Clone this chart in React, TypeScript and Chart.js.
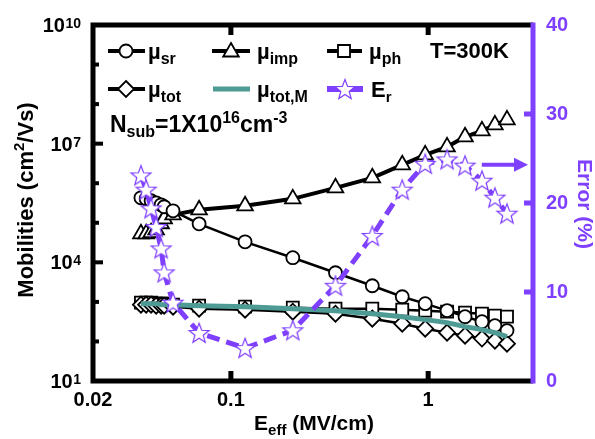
import React, { useEffect, useRef } from "react";
import { Chart, registerables } from "chart.js";

Chart.register(...registerables);

// ---------- data ----------
const E_EFF = [0.035, 0.0372, 0.0394, 0.0418, 0.0443, 0.0459, 0.0509, 0.069, 0.118, 0.206, 0.339, 0.521, 0.739, 0.966, 1.247, 1.538, 1.874, 2.18, 2.51];
const MU_SR = [4.28e5, 4.03e5, 3.6e5, 3.2e5, 2.85e5, 2.54e5, 2.01e5, 9.4e4, 3.3e4, 1.31e4, 5.46e3, 2.56e3, 1.35e3, 902, 600, 423, 316, 251, 188];
const MU_IMP = [5.27e4, 5.27e4, 5.59e4, 6.65e4, 9.44e4, 1.26e5, 1.59e5, 2.13e5, 2.69e5, 4.03e5, 7.65e5, 1.37e6, 2.92e6, 5.21e6, 8.3e6, 1.49e7, 2.1e7, 2.99e7, 3.99e7];
const MU_PH = [955, 955, 955, 902, 902, 902, 849, 802, 757, 714, 673, 673, 635, 600, 566, 534, 504, 449, 423];
const MU_TOT = [849, 849, 849, 802, 802, 802, 757, 673, 635, 566, 504, 377, 281, 210, 167, 140, 118, 105, 88];
const MU_TOT_M = [902, 902, 902, 902, 849, 849, 849, 802, 757, 673, 600, 504, 423, 356, 299, 237, 199, 167, 132];
const ERR = [23.1, 21.5, 19.4, 17.3, 14.9, 12.2, 8.8, 5.4, 3.7, 5.7, 10.7, 16.3, 21.5, 24.4, 24.9, 24.2, 22.5, 20.6, 18.8];

const X_TICKS = [0.02, 0.1, 1];
const X_RANGE = [0.02, 3.4];
const Y_DECADES = [1, 2, 3, 4, 5, 6, 7, 8, 9, 10];
const Y_LABEL_EXP = [1, 4, 7, 10];
const ERR_TICKS = [0, 10, 20, 30, 40];
const ARROW_ERR = 24.3;
const ARROW_X_START = 1.87;

const PURPLE = "#7f3fff";
const TEAL = "#4e9a95";
const FONT = '"Liberation Sans", Arial, Helvetica, sans-serif';

type Part = { t: string; size: number; dy?: number };

function drawRich(ctx: CanvasRenderingContext2D, x: number, y: number, parts: Part[], align: "left" | "center" | "right" = "left") {
  ctx.textAlign = "left";
  ctx.textBaseline = "alphabetic";
  let total = 0;
  const widths = parts.map((p) => {
    ctx.font = `bold ${p.size}px ${FONT}`;
    const w = ctx.measureText(p.t).width;
    total += w;
    return w;
  });
  let cx = align === "left" ? x : align === "center" ? x - total / 2 : x - total;
  parts.forEach((p, i) => {
    ctx.font = `bold ${p.size}px ${FONT}`;
    ctx.fillText(p.t, cx, y + (p.dy || 0));
    cx += widths[i];
  });
}

function starPath(ctx: CanvasRenderingContext2D, cx: number, cy: number, R: number, r: number) {
  ctx.beginPath();
  for (let i = 0; i < 10; i++) {
    const ang = -Math.PI / 2 + (i * Math.PI) / 5;
    const rad = i % 2 === 0 ? R : r;
    const px = cx + Math.cos(ang) * rad;
    const py = cy + Math.sin(ang) * rad;
    if (i === 0) ctx.moveTo(px, py);
    else ctx.lineTo(px, py);
  }
  ctx.closePath();
}

function drawStar(ctx: CanvasRenderingContext2D, cx: number, cy: number) {
  starPath(ctx, cx, cy, 10.5, 4.4);
  ctx.fillStyle = "#fff";
  ctx.fill();
  ctx.lineWidth = 1.2;
  ctx.lineJoin = "miter";
  ctx.strokeStyle = PURPLE;
  ctx.stroke();
}

function makeStarCanvas() {
  const c = document.createElement("canvas");
  c.width = 26;
  c.height = 26;
  const g = c.getContext("2d")!;
  drawStar(g, 13, 13.8);
  return c;
}

function drawMarker(ctx: CanvasRenderingContext2D, kind: string, x: number, y: number, r: number) {
  ctx.beginPath();
  if (kind === "circle") {
    ctx.arc(x, y, r, 0, Math.PI * 2);
  } else if (kind === "triangle") {
    for (let i = 0; i < 3; i++) {
      const ang = (i * 2 * Math.PI) / 3;
      const px = x + Math.sin(ang) * r;
      const py = y - Math.cos(ang) * r;
      if (i === 0) ctx.moveTo(px, py);
      else ctx.lineTo(px, py);
    }
    ctx.closePath();
  } else if (kind === "rect") {
    const s = Math.SQRT1_2 * r;
    ctx.rect(x - s, y - s, 2 * s, 2 * s);
  } else if (kind === "rectRot") {
    ctx.moveTo(x, y - r);
    ctx.lineTo(x + r, y);
    ctx.lineTo(x, y + r);
    ctx.lineTo(x - r, y);
    ctx.closePath();
  }
  ctx.fillStyle = "#fff";
  ctx.fill();
  ctx.lineWidth = 1.8;
  ctx.strokeStyle = "#000";
  ctx.stroke();
}

function hLine(ctx: CanvasRenderingContext2D, x0: number, x1: number, y: number, color: string, w: number) {
  ctx.beginPath();
  ctx.moveTo(x0, y);
  ctx.lineTo(x1, y);
  ctx.lineWidth = w;
  ctx.strokeStyle = color;
  ctx.setLineDash([]);
  ctx.stroke();
}

const decor = {
  id: "decor",
  afterDraw(chart: any) {
    const ctx: CanvasRenderingContext2D = chart.ctx;
    const a = chart.chartArea;
    const xs = chart.scales.x;
    const ys = chart.scales.y;
    const y1 = chart.scales.y1;
    ctx.save();
    ctx.setLineDash([]);

    // inward ticks
    ctx.fillStyle = "#000";
    for (const d of Y_DECADES) {
      const py = ys.getPixelForValue(Math.pow(10, d));
      const major = Y_LABEL_EXP.includes(d);
      ctx.fillRect(a.left, py - 2, major ? 10 : 6, 4);
    }
    for (const v of X_TICKS.slice(1)) {
      const px = xs.getPixelForValue(v);
      ctx.fillRect(px - 2.5, a.bottom - 10, 5, 10);
      ctx.fillRect(px - 2.5, a.top, 5, 10);
    }
    ctx.fillStyle = PURPLE;
    for (const v of ERR_TICKS.slice(1, -1)) {
      const py = y1.getPixelForValue(v);
      ctx.fillRect(a.right - 9, py - 2.5, 9, 5);
    }

    // frame
    ctx.lineWidth = 5;
    ctx.lineJoin = "miter";
    ctx.strokeStyle = "#000";
    ctx.beginPath();
    ctx.moveTo(a.right, a.top);
    ctx.lineTo(a.left, a.top);
    ctx.lineTo(a.left, a.bottom);
    ctx.lineTo(a.right, a.bottom);
    ctx.stroke();
    ctx.strokeStyle = PURPLE;
    ctx.beginPath();
    ctx.moveTo(a.right, a.top - 2.5);
    ctx.lineTo(a.right, a.bottom + 2.5);
    ctx.stroke();

    // left tick labels (10^n)
    ctx.fillStyle = "#000";
    for (const d of Y_LABEL_EXP) {
      const py = ys.getPixelForValue(Math.pow(10, d));
      ctx.font = `bold 14px ${FONT}`;
      const supW = ctx.measureText(String(d)).width;
      ctx.textAlign = "right";
      ctx.textBaseline = "alphabetic";
      ctx.fillText(String(d), a.left - 12, py + 3);
      ctx.font = `bold 20px ${FONT}`;
      ctx.textBaseline = "middle";
      ctx.fillText("10", a.left - 12 - supW - 0.5, py + 1.5);
    }

    // axis titles
    ctx.fillStyle = "#000";
    ctx.save();
    ctx.translate(33, 200);
    ctx.rotate(-Math.PI / 2);
    drawRich(ctx, 0, 0, [
      { t: "Mobilities (cm", size: 22 },
      { t: "2", size: 15, dy: -9 },
      { t: "/Vs)", size: 22 },
    ], "center");
    ctx.restore();

    ctx.fillStyle = PURPLE;
    ctx.save();
    ctx.translate(578, 204);
    ctx.rotate(Math.PI / 2);
    drawRich(ctx, 0, 0, [{ t: "Error (%)", size: 21 }], "center");
    ctx.restore();

    ctx.fillStyle = "#000";
    drawRich(ctx, 314, 430, [
      { t: "E", size: 21 },
      { t: "eff", size: 15, dy: 5 },
      { t: " (MV/cm)", size: 21 },
    ], "center");

    // legend
    const L = a.left;
    const T = a.top;
    const r1 = T + 26;
    const r2 = T + 64;
    const b1 = T + 34;
    const b2 = T + 72;
    // row 1
    hLine(ctx, L + 15, L + 52, r1, "#000", 4);
    drawMarker(ctx, "circle", L + 33, r1, 6.5);
    hLine(ctx, L + 119, L + 157, r1, "#000", 4);
    drawMarker(ctx, "triangle", L + 138, r1 + 1, 9);
    hLine(ctx, L + 234, L + 269, r1, "#000", 4);
    drawMarker(ctx, "rect", L + 251, r1, 8.5);
    // row 2
    hLine(ctx, L + 15, L + 52, r2, "#000", 4);
    drawMarker(ctx, "rectRot", L + 33, r2, 8);
    hLine(ctx, L + 120, L + 157, r2, TEAL, 5);
    hLine(ctx, L + 234, L + 270, r2, PURPLE, 6);
    drawStar(ctx, L + 252, r2 + 1);

    ctx.fillStyle = "#000";
    drawRich(ctx, L + 55, b1, [{ t: "\u00b5", size: 22 }, { t: "sr", size: 16, dy: 5 }]);
    drawRich(ctx, L + 164, b1, [{ t: "\u00b5", size: 22 }, { t: "imp", size: 16, dy: 5 }]);
    drawRich(ctx, L + 276, b1, [{ t: "\u00b5", size: 22 }, { t: "ph", size: 16, dy: 5 }]);
    drawRich(ctx, L + 55, b2, [{ t: "\u00b5", size: 22 }, { t: "tot", size: 16, dy: 5 }]);
    drawRich(ctx, L + 164, b2, [{ t: "\u00b5", size: 22 }, { t: "tot,M", size: 16, dy: 5 }]);
    drawRich(ctx, L + 278, b2, [{ t: "E", size: 22 }, { t: "r", size: 15, dy: 5 }]);

    drawRich(ctx, L + 337, T + 33, [{ t: "T=300K", size: 22 }]);
    drawRich(ctx, L + 17, T + 107, [
      { t: "N", size: 23 },
      { t: "sub", size: 16, dy: 5 },
      { t: "=1X10", size: 23 },
      { t: "16", size: 16, dy: -9 },
      { t: "cm", size: 23 },
      { t: "-3", size: 16, dy: -9 },
    ]);

    // arrow pointing to right axis
    const ay = y1.getPixelForValue(ARROW_ERR);
    const ax0 = xs.getPixelForValue(ARROW_X_START);
    const tip = a.right - 5;
    hLine(ctx, ax0, tip - 12, ay, PURPLE, 4);
    ctx.beginPath();
    ctx.moveTo(tip, ay);
    ctx.lineTo(tip - 14, ay - 7);
    ctx.lineTo(tip - 14, ay + 7);
    ctx.closePath();
    ctx.fillStyle = PURPLE;
    ctx.fill();

    ctx.restore();
  },
};

export default function App() {
  const ref = useRef<HTMLCanvasElement>(null);
  useEffect(() => {
    document.body.style.margin = "0";
    const canvas = ref.current!;
    const star = makeStarCanvas();
    const pts = (ys: number[]) => E_EFF.map((x, i) => ({ x, y: ys[i] }));
    const black = (extra: any) => ({
      borderColor: "#000",
      pointBackgroundColor: "#fff",
      pointBorderColor: "#000",
      pointBorderWidth: 1.8,
      fill: false,
      tension: 0,
      yAxisID: "y",
      ...extra,
    });
    const chart = new Chart(canvas, {
      type: "line",
      data: {
        datasets: [
          {
            label: "Er",
            data: pts(ERR),
            yAxisID: "y1",
            borderColor: PURPLE,
            borderWidth: 5,
            borderDash: [13, 7],
            pointStyle: star as any,
            pointRadius: 10,
            fill: false,
            tension: 0,
            order: 0,
          },
          {
            label: "mu_tot_M",
            data: pts(MU_TOT_M),
            yAxisID: "y",
            borderColor: TEAL,
            borderWidth: 5,
            pointRadius: 0,
            fill: false,
            tension: 0,
            order: 1,
          },
          black({ label: "mu_sr", data: pts(MU_SR), borderWidth: 2.5, pointStyle: "circle", pointRadius: 6.5, order: 2 }),
          black({ label: "mu_tot", data: pts(MU_TOT), borderWidth: 2.5, pointStyle: "rectRot", pointRadius: 8, order: 3 }),
          black({ label: "mu_ph", data: pts(MU_PH), borderWidth: 2.5, pointStyle: "rect", pointRadius: 8.5, order: 4 }),
          black({ label: "mu_imp", data: pts(MU_IMP), borderWidth: 4, pointStyle: "triangle", pointRadius: 9, order: 5 }),
        ] as any,
      },
      options: {
        responsive: false,
        animation: false,
        devicePixelRatio: 1,
        layout: { padding: { top: 25, left: 0, right: 0, bottom: 0 } },
        plugins: { legend: { display: false }, tooltip: { enabled: false } },
        scales: {
          x: {
            type: "logarithmic",
            position: "bottom",
            min: X_RANGE[0],
            max: X_RANGE[1],
            grid: { display: false, drawTicks: false },
            border: { display: false },
            afterBuildTicks: (s: any) => {
              s.ticks = X_TICKS.map((v) => ({ value: v }));
            },
            ticks: {
              autoSkip: false,
              maxRotation: 0,
              padding: 7,
              color: "#000",
              font: { family: FONT, size: 20, weight: "bold" },
              callback: (v: any) => String(v),
            },
            afterFit: (s: any) => {
              s.height = 58;
            },
          },
          y: {
            type: "logarithmic",
            position: "left",
            min: 10,
            max: 1e10,
            grid: { display: false, drawTicks: false },
            border: { display: false },
            ticks: { display: false },
            afterFit: (s: any) => {
              s.width = 93;
            },
          },
          y1: {
            type: "linear",
            position: "right",
            min: ERR_TICKS[0],
            max: ERR_TICKS[ERR_TICKS.length - 1],
            grid: { display: false, drawTicks: false },
            border: { display: false },
            afterBuildTicks: (s: any) => {
              s.ticks = ERR_TICKS.map((v) => ({ value: v }));
            },
            ticks: {
              padding: 13,
              color: PURPLE,
              font: { family: FONT, size: 20, weight: "bold" },
            },
            afterFit: (s: any) => {
              s.width = 62;
            },
          },
        },
      } as any,
      plugins: [decor as any],
    });
    return () => chart.destroy();
  }, []);
  return (
    <div style={{ position: "absolute", left: 0, top: 0, width: 595, height: 439, background: "#fff" }}>
      <canvas ref={ref} width={595} height={439} style={{ width: 595, height: 439, display: "block" }} />
    </div>
  );
}
